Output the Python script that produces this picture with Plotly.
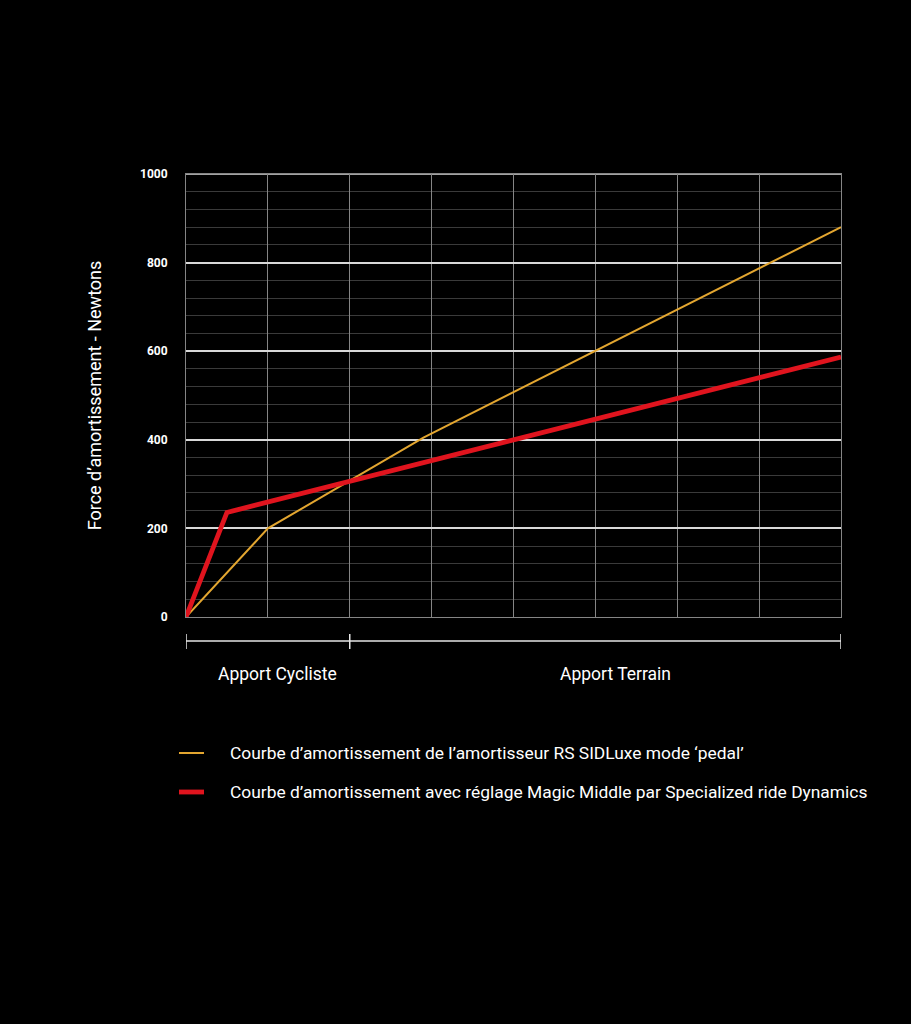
import plotly.graph_objects as go

# ---- data ----
yellow_x = [0, 1, 2.9, 8]
yellow_y = [0, 200, 405, 880]
red_x = [0, 0.5, 8]
red_y = [0, 236, 587]

yellow_name = "Courbe d’amortissement de l’amortisseur RS SIDLuxe mode ‘pedal’"
red_name = "Courbe d’amortissement avec réglage Magic Middle par Specialized ride Dynamics"

segment_edges = [0, 2, 8]
segment_labels = ["Apport Cycliste", "Apport Terrain"]
segment_label_x = [1.12, 5.24]

y_title = "Force d’amortissement - Newtons"

YELLOW = "#e3a630"
RED = "#e0141e"
FONT = "Roboto, 'DejaVu Sans', sans-serif"

fig = go.Figure()
fig.add_trace(go.Scatter(x=yellow_x, y=yellow_y, mode="lines", name=yellow_name,
                         line=dict(color=YELLOW, width=2), showlegend=False))
fig.add_trace(go.Scatter(x=red_x, y=red_y, mode="lines", name=red_name,
                         line=dict(color=RED, width=4.8), showlegend=False))

W, H = 911, 1024
L, R, T, B = 186, 70, 174, 407
pw, ph = W - L - R, H - T - B

def px_to_paper_y(py):
    return (H - B - py) / ph

def px_to_paper_x(px):
    return (px - L) / pw

# bright top border (1000 gridline at the edge)
fig.add_shape(type="line", xref="paper", yref="paper", x0=0, x1=1, y0=1, y1=1,
              line=dict(color="#d9d9d9", width=1.5), layer="below")

# bracket below plot
by = px_to_paper_y(641)
bt = px_to_paper_y(634)
bb = px_to_paper_y(649)
fig.add_shape(type="line", xref="x", yref="paper", x0=segment_edges[0], x1=segment_edges[-1],
              y0=by, y1=by, line=dict(color="#e6e6e6", width=1.5))
for e in segment_edges:
    fig.add_shape(type="line", xref="x", yref="paper", x0=e, x1=e, y0=bt, y1=bb,
                  line=dict(color="#e6e6e6", width=1.5))
for lab, lx in zip(segment_labels, segment_label_x):
    fig.add_annotation(xref="x", yref="paper", x=lx, y=px_to_paper_y(674), text=lab,
                       showarrow=False, font=dict(color="white", size=17.5, family=FONT),
                       xanchor="center", yanchor="middle")

# legend built from shapes + annotations
legend_items = [(yellow_name, YELLOW, 2, 753), (red_name, RED, 4.8, 792)]
for name, col, w, py in legend_items:
    fig.add_shape(type="line", xref="paper", yref="paper",
                  x0=px_to_paper_x(179), x1=px_to_paper_x(204),
                  y0=px_to_paper_y(py), y1=px_to_paper_y(py),
                  line=dict(color=col, width=w))
    fig.add_annotation(xref="paper", yref="paper", x=px_to_paper_x(228), y=px_to_paper_y(py),
                       text=name, showarrow=False, xanchor="left", yanchor="middle",
                       font=dict(color="white", size=17.4, family=FONT))

fig.update_layout(
    width=W, height=H,
    margin=dict(l=L, r=R, t=T, b=B, pad=0),
    paper_bgcolor="black", plot_bgcolor="black",
    font=dict(family=FONT, color="white"),
    showlegend=False,
)
fig.update_xaxes(range=[0, 8], dtick=1, showticklabels=False, showgrid=True,
                 gridcolor="#858585", gridwidth=1, zeroline=False,
                 showline=True, mirror=True, linecolor="#858585", linewidth=1, ticks="")
fig.update_yaxes(range=[0, 1000], dtick=200, showgrid=True, gridcolor="#d9d9d9", gridwidth=1.5,
                 zeroline=False, showline=True, mirror=True, linecolor="#858585", linewidth=1,
                 ticks="outside", ticklen=15, tickcolor="rgba(0,0,0,0)",
                 tickfont=dict(color="white", size=12, family=FONT, weight="bold"),
                 minor=dict(dtick=40, showgrid=True, gridcolor="#3a3a3a", gridwidth=1),
                 title=dict(text=y_title, standoff=33,
                            font=dict(color="white", size=18, family=FONT)))

fig.write_html("out.html")
